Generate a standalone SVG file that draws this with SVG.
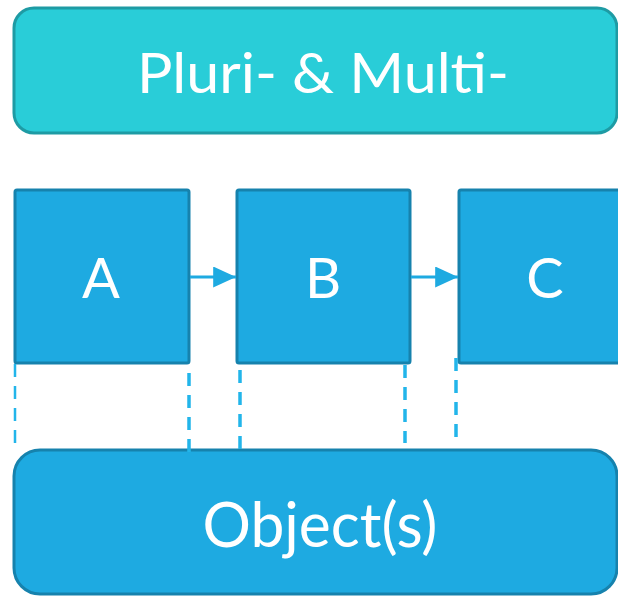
<svg xmlns="http://www.w3.org/2000/svg" width="618" height="596" viewBox="0 0 618 596">
<defs>
<style>
.lbl{font-family:"Lato","Noto Sans",sans-serif;font-weight:400;fill:#ffffff;text-anchor:middle}
.box{fill:#1eaae1;stroke:#1682ad;stroke-width:3}
.dash{stroke:#22b5ea;stroke-width:3.5;stroke-dasharray:13 9;fill:none}
.conn{stroke:#1eaae1;stroke-width:3;fill:none}
</style>
<marker id="ah" markerWidth="8" markerHeight="8" refX="7.6" refY="3.5" orient="auto" markerUnits="strokeWidth">
<path d="M0,0 L7.6,3.5 L0,7 Z" fill="#1eaae1"/>
</marker>
</defs>
<g id="top">
<rect x="14" y="8" width="603" height="125" rx="20" fill="#29cdd8" stroke="#1e9ba4" stroke-width="3"/>
<text class="lbl" x="323" y="93" font-size="57" textLength="372" lengthAdjust="spacingAndGlyphs">Pluri- &amp; Multi-</text>
</g>
<g id="nodeA">
<rect class="box" x="15" y="190" width="174" height="173" rx="2"/>
<text class="lbl" x="101" y="298" font-size="56">A</text>
</g>
<g id="nodeB">
<rect class="box" x="237" y="190" width="173" height="173" rx="2"/>
<text class="lbl" x="323" y="298" font-size="56">B</text>
</g>
<g id="nodeC">
<rect class="box" x="459" y="190" width="175" height="173" rx="2"/>
<text class="lbl" x="545" y="298" font-size="56">C</text>
</g>
<g id="bottom">
<rect x="14" y="450" width="603" height="144" rx="26" fill="#1eaae1" stroke="#1682ad" stroke-width="3"/>
<text class="lbl" x="320" y="547" font-size="61" textLength="235" lengthAdjust="spacingAndGlyphs">Object(s)</text>
</g>
<g id="connectors">
<line class="conn" x1="190" y1="277" x2="236" y2="277" marker-end="url(#ah)"/>
<line class="conn" x1="411" y1="277" x2="458" y2="277" marker-end="url(#ah)"/>
<line class="dash" x1="15" y1="364" x2="15" y2="452" style="stroke-width:2.5"/>
<line class="dash" x1="189" y1="373" x2="189" y2="452"/>
<line class="dash" x1="240" y1="370" x2="240" y2="452"/>
<line class="dash" x1="405" y1="365" x2="405" y2="443"/>
<line class="dash" x1="456" y1="358" x2="456" y2="443"/>
</g>
</svg>
